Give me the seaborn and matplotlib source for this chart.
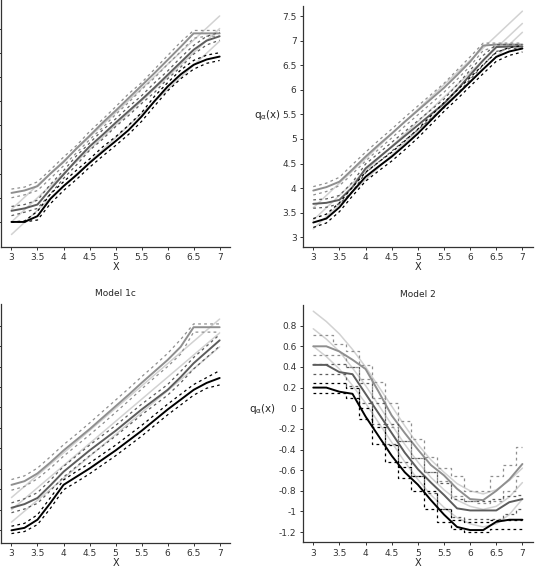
import numpy as np
import pandas as pd
import seaborn as sns
import matplotlib
matplotlib.use("Agg")
import matplotlib.pyplot as plt

# %% data
x_grid = [3, 3.25, 3.5, 3.75, 4, 4.25, 4.5, 4.75, 5, 5.25, 5.5, 5.75, 6, 6.25, 6.5, 6.75, 7]
x_ends = [3, 7]

# top-left panel
tl_true_hi = [3.76, 7.76]
tl_true_md = [3.50, 7.50]
tl_true_lo = [3.24, 7.24]
tl_hi = [4.10, 4.15, 4.24, 4.50, 4.74, 5.02, 5.28, 5.55, 5.80, 6.06, 6.32, 6.58, 6.85, 7.12, 7.40, 7.40, 7.40]
tl_hi_up = [4.18, 4.22, 4.33, 4.58, 4.84, 5.08, 5.37, 5.62, 5.88, 6.15, 6.38, 6.66, 6.94, 7.22, 7.46, 7.46, 7.46]
tl_hi_dn = [4.00, 4.06, 4.15, 4.40, 4.66, 4.93, 5.20, 5.45, 5.72, 5.97, 6.24, 6.48, 6.76, 7.02, 7.30, 7.34, 7.34]
tl_md = [3.73, 3.78, 3.86, 4.18, 4.48, 4.78, 5.06, 5.30, 5.55, 5.79, 6.03, 6.28, 6.54, 6.80, 7.06, 7.25, 7.34]
tl_md_up = [3.82, 3.86, 3.95, 4.28, 4.56, 4.87, 5.13, 5.40, 5.63, 5.88, 6.11, 6.38, 6.62, 6.90, 7.15, 7.34, 7.42]
tl_md_dn = [3.63, 3.70, 3.78, 4.08, 4.40, 4.68, 4.98, 5.21, 5.47, 5.70, 5.95, 6.18, 6.46, 6.70, 6.97, 7.16, 7.26]
tl_lo = [3.50, 3.50, 3.62, 3.98, 4.24, 4.47, 4.72, 4.95, 5.17, 5.40, 5.68, 6.00, 6.30, 6.55, 6.75, 6.86, 6.92]
tl_lo_up = [3.50, 3.52, 3.72, 4.08, 4.33, 4.57, 4.80, 5.05, 5.26, 5.50, 5.76, 6.10, 6.38, 6.64, 6.84, 6.95, 7.00]
tl_lo_dn = [3.50, 3.50, 3.54, 3.88, 4.15, 4.38, 4.63, 4.86, 5.08, 5.31, 5.58, 5.90, 6.21, 6.46, 6.66, 6.78, 6.84]

# top-right panel
tr_true_hi = [3.60, 7.60]
tr_true_md = [3.35, 7.35]
tr_true_lo = [3.17, 7.17]
tr_hi = [3.95, 4.02, 4.13, 4.38, 4.64, 4.88, 5.11, 5.35, 5.58, 5.81, 6.04, 6.30, 6.57, 6.90, 6.92, 6.92, 6.92]
tr_hi_up = [4.03, 4.10, 4.22, 4.48, 4.73, 4.97, 5.20, 5.44, 5.67, 5.90, 6.13, 6.40, 6.67, 6.95, 6.95, 6.95, 6.95]
tr_hi_dn = [3.86, 3.93, 4.05, 4.29, 4.55, 4.79, 5.02, 5.26, 5.49, 5.72, 5.95, 6.21, 6.48, 6.80, 6.88, 6.88, 6.88]
tr_md = [3.68, 3.70, 3.76, 4.02, 4.40, 4.62, 4.84, 5.06, 5.28, 5.50, 5.72, 6.00, 6.30, 6.60, 6.87, 6.88, 6.88]
tr_md_up = [3.76, 3.78, 3.85, 4.12, 4.49, 4.71, 4.93, 5.15, 5.37, 5.59, 5.81, 6.10, 6.40, 6.70, 6.92, 6.92, 6.92]
tr_md_dn = [3.59, 3.61, 3.68, 3.93, 4.31, 4.53, 4.75, 4.97, 5.19, 5.41, 5.63, 5.91, 6.21, 6.50, 6.78, 6.84, 6.84]
tr_lo = [3.30, 3.38, 3.61, 3.93, 4.23, 4.44, 4.64, 4.87, 5.11, 5.38, 5.65, 5.90, 6.16, 6.42, 6.67, 6.78, 6.84]
tr_lo_up = [3.38, 3.47, 3.70, 4.02, 4.32, 4.53, 4.73, 4.96, 5.20, 5.47, 5.74, 5.99, 6.25, 6.51, 6.76, 6.86, 6.90]
tr_lo_dn = [3.20, 3.29, 3.52, 3.84, 4.14, 4.35, 4.55, 4.78, 5.02, 5.29, 5.56, 5.81, 6.07, 6.33, 6.58, 6.70, 6.77]

# bottom-left panel (Model 1c)
bl_true_hi = [3.80, 8.16]
bl_true_md = [3.50, 7.82]
bl_true_lo = [3.20, 7.48]
bl_hi = [4.11, 4.20, 4.39, 4.66, 4.95, 5.21, 5.47, 5.75, 6.03, 6.31, 6.60, 6.88, 7.16, 7.48, 7.96, 7.96, 7.96]
bl_hi_up = [4.24, 4.33, 4.52, 4.80, 5.09, 5.35, 5.62, 5.90, 6.18, 6.46, 6.75, 7.03, 7.32, 7.66, 8.04, 8.04, 8.04]
bl_hi_dn = [3.98, 4.07, 4.26, 4.52, 4.81, 5.07, 5.33, 5.60, 5.88, 6.16, 6.45, 6.73, 7.00, 7.30, 7.84, 7.84, 7.84]
bl_md = [3.55, 3.64, 3.79, 4.10, 4.43, 4.69, 4.95, 5.19, 5.43, 5.69, 5.95, 6.19, 6.43, 6.74, 7.08, 7.36, 7.64]
bl_md_up = [3.67, 3.77, 3.92, 4.23, 4.56, 4.82, 5.08, 5.32, 5.56, 5.82, 6.08, 6.32, 6.56, 6.88, 7.22, 7.50, 7.78]
bl_md_dn = [3.43, 3.52, 3.66, 3.97, 4.30, 4.56, 4.82, 5.06, 5.30, 5.56, 5.82, 6.06, 6.30, 6.60, 6.94, 7.22, 7.50]
bl_lo = [3.00, 3.06, 3.26, 3.67, 4.11, 4.31, 4.51, 4.73, 4.95, 5.19, 5.43, 5.69, 5.95, 6.19, 6.43, 6.60, 6.72]
bl_lo_up = [3.10, 3.17, 3.38, 3.80, 4.23, 4.44, 4.64, 4.86, 5.08, 5.32, 5.56, 5.82, 6.08, 6.32, 6.56, 6.73, 6.90]
bl_lo_dn = [2.92, 2.97, 3.14, 3.54, 3.99, 4.18, 4.38, 4.60, 4.82, 5.06, 5.30, 5.56, 5.82, 6.06, 6.30, 6.47, 6.55]

# bottom-right panel (Model 2)
br_true_hi = [0.94, 0.84, 0.72, 0.57, 0.40, 0.21, 0.02, -0.17, -0.35, -0.50, -0.62, -0.73, -0.80, -0.83, -0.79, -0.70, -0.58]
br_true_md = [0.77, 0.67, 0.55, 0.39, 0.22, 0.03, -0.16, -0.35, -0.52, -0.67, -0.79, -0.89, -0.95, -0.98, -0.95, -0.86, -0.72]
br_true_lo = [0.60, 0.50, 0.38, 0.22, 0.05, -0.14, -0.33, -0.52, -0.69, -0.84, -0.96, -1.06, -1.12, -1.15, -1.12, -1.03, -0.88]
br_hi = [0.60, 0.60, 0.55, 0.47, 0.38, 0.16, -0.07, -0.24, -0.40, -0.55, -0.65, -0.78, -0.88, -0.89, -0.80, -0.69, -0.54]
br_hi_up = [0.71, 0.71, 0.62, 0.55, 0.42, 0.25, 0.05, -0.12, -0.30, -0.47, -0.58, -0.66, -0.80, -0.80, -0.66, -0.55, -0.38]
br_hi_dn = [0.52, 0.52, 0.52, 0.40, 0.28, 0.10, -0.18, -0.32, -0.48, -0.62, -0.70, -0.85, -0.90, -0.92, -0.90, -0.80, -0.66]
br_md = [0.42, 0.42, 0.35, 0.33, 0.14, -0.05, -0.24, -0.43, -0.59, -0.72, -0.84, -0.97, -0.99, -0.99, -0.99, -0.91, -0.88]
br_md_up = [0.43, 0.43, 0.43, 0.40, 0.24, 0.05, -0.15, -0.32, -0.48, -0.62, -0.72, -0.88, -0.90, -0.90, -0.88, -0.85, -0.84]
br_md_dn = [0.33, 0.33, 0.33, 0.22, 0.05, -0.15, -0.35, -0.52, -0.66, -0.82, -0.98, -1.05, -1.07, -1.07, -1.07, -1.02, -0.98]
br_lo = [0.20, 0.20, 0.16, 0.14, -0.08, -0.27, -0.46, -0.62, -0.74, -0.89, -1.03, -1.15, -1.18, -1.18, -1.10, -1.08, -1.08]
br_lo_up = [0.24, 0.24, 0.24, 0.20, 0.00, -0.18, -0.36, -0.57, -0.66, -0.80, -0.98, -1.08, -1.10, -1.10, -1.08, -1.08, -1.08]
br_lo_dn = [0.145, 0.145, 0.145, 0.10, -0.10, -0.35, -0.52, -0.68, -0.80, -0.98, -1.10, -1.17, -1.20, -1.20, -1.17, -1.17, -1.17]

x_ticks = [3, 3.5, 4, 4.5, 5, 5.5, 6, 6.5, 7]
x_tick_labels = ['3', '3.5', '4', '4.5', '5', '5.5', '6', '6.5', '7']
yt_top = [3, 3.5, 4, 4.5, 5, 5.5, 6, 6.5, 7, 7.5]
yt_top_labels = ['3', '3.5', '4', '4.5', '5', '5.5', '6', '6.5', '7', '7.5']
yt_bl = [3, 3.5, 4, 4.5, 5, 5.5, 6, 6.5, 7, 7.5, 8]
yt_br = [0.8, 0.6, 0.4, 0.2, 0, -0.2, -0.4, -0.6, -0.8, -1, -1.2]
yt_br_labels = ['0.8', '0.6', '0.4', '0.2', '0', '-0.2', '-0.4', '-0.6', '-0.8', '-1', '-1.2']

# %% style
sns.set_theme(style="ticks")
fam = ['Liberation Sans Narrow', 'DejaVu Sans Condensed', 'DejaVu Sans']
plt.rcParams['font.family'] = fam
plt.rcParams['axes.unicode_minus'] = False
plt.rcParams['mathtext.fontset'] = 'custom'
plt.rcParams['mathtext.rm'] = 'Liberation Sans Narrow'
plt.rcParams['mathtext.it'] = 'Liberation Sans Narrow'

c_true = '#d2d2d2'
c_hi = '#8f8f8f'
c_md = '#5c5c5c'
c_lo = '#000000'

fig = plt.figure(figsize=(5.35, 5.68), dpi=100)
ax_tl = fig.add_axes([0.002, 0.565, 0.428, 0.435])
ax_tr = fig.add_axes([0.566, 0.565, 0.430, 0.424])
ax_bl = fig.add_axes([0.002, 0.044, 0.428, 0.421])
ax_br = fig.add_axes([0.566, 0.045, 0.430, 0.418])


def draw(ax, trues, tx, ests, steps=False):
    for t in trues:
        sns.lineplot(x=tx, y=t, ax=ax, color=c_true, lw=1.1, sort=False)
    ds = 'steps-mid' if steps else 'default'
    for (e, up, dn), col in zip(ests, [c_hi, c_md, c_lo]):
        for b in (up, dn):
            sns.lineplot(x=x_grid, y=b, ax=ax, color=col, lw=0.9,
                         dashes=False, linestyle=(0, (2.2, 2.6)), drawstyle=ds, sort=False)
        sns.lineplot(x=x_grid, y=e, ax=ax, color=col, lw=1.4, sort=False)


draw(ax_tl, [tl_true_hi, tl_true_md, tl_true_lo], x_ends,
     [(tl_hi, tl_hi_up, tl_hi_dn), (tl_md, tl_md_up, tl_md_dn), (tl_lo, tl_lo_up, tl_lo_dn)])
draw(ax_tr, [tr_true_hi, tr_true_md, tr_true_lo], x_ends,
     [(tr_hi, tr_hi_up, tr_hi_dn), (tr_md, tr_md_up, tr_md_dn), (tr_lo, tr_lo_up, tr_lo_dn)])
draw(ax_bl, [bl_true_hi, bl_true_md, bl_true_lo], x_ends,
     [(bl_hi, bl_hi_up, bl_hi_dn), (bl_md, bl_md_up, bl_md_dn), (bl_lo, bl_lo_up, bl_lo_dn)])
draw(ax_br, [br_true_hi, br_true_md, br_true_lo], x_grid,
     [(br_hi, br_hi_up, br_hi_dn), (br_md, br_md_up, br_md_dn), (br_lo, br_lo_up, br_lo_dn)], steps=True)

for ax in (ax_tl, ax_tr, ax_bl, ax_br):
    ax.set_xlim(2.8, 7.2)
    ax.set_xticks(x_ticks)
    ax.set_xticklabels(x_tick_labels)
    ax.set_xlabel('X', fontsize=7, labelpad=0)
    ax.set_ylabel('')
    sns.despine(ax=ax)
    for s in ('left', 'bottom'):
        ax.spines[s].set_color('#333333')
        ax.spines[s].set_linewidth(0.9)
    ax.tick_params(axis='both', direction='out', length=2.5, width=0.7,
                   colors='#333333', labelsize=6.5, pad=2)

ax_tl.set_ylim(2.98, 8.09)
ax_tl.set_yticks(yt_top[1:])
ax_tl.set_yticklabels([])

ax_tr.set_ylim(2.8, 7.7)
ax_tr.set_yticks(yt_top)
ax_tr.set_yticklabels(yt_top_labels)

ax_bl.set_ylim(2.69, 8.53)
ax_bl.set_yticks(yt_bl)
ax_bl.set_yticklabels([])
ax_bl.set_title('Model 1c', fontsize=6.5, pad=6)

ax_br.set_ylim(-1.3, 1.0)
ax_br.set_yticks(yt_br)
ax_br.set_yticklabels(yt_br_labels)
ax_br.set_title('Model 2', fontsize=6.5, pad=6)

for ax, yy, xx in ((ax_tr, 0.55, -0.095), (ax_br, 0.56, -0.115)):
    ax.set_ylabel(r'$\mathrm{q}_{\alpha}\mathrm{(x)}$', rotation=0, fontsize=7.5, ha='right', va='center')
    ax.yaxis.set_label_coords(xx, yy)

fig.savefig('out.png', dpi=100)
